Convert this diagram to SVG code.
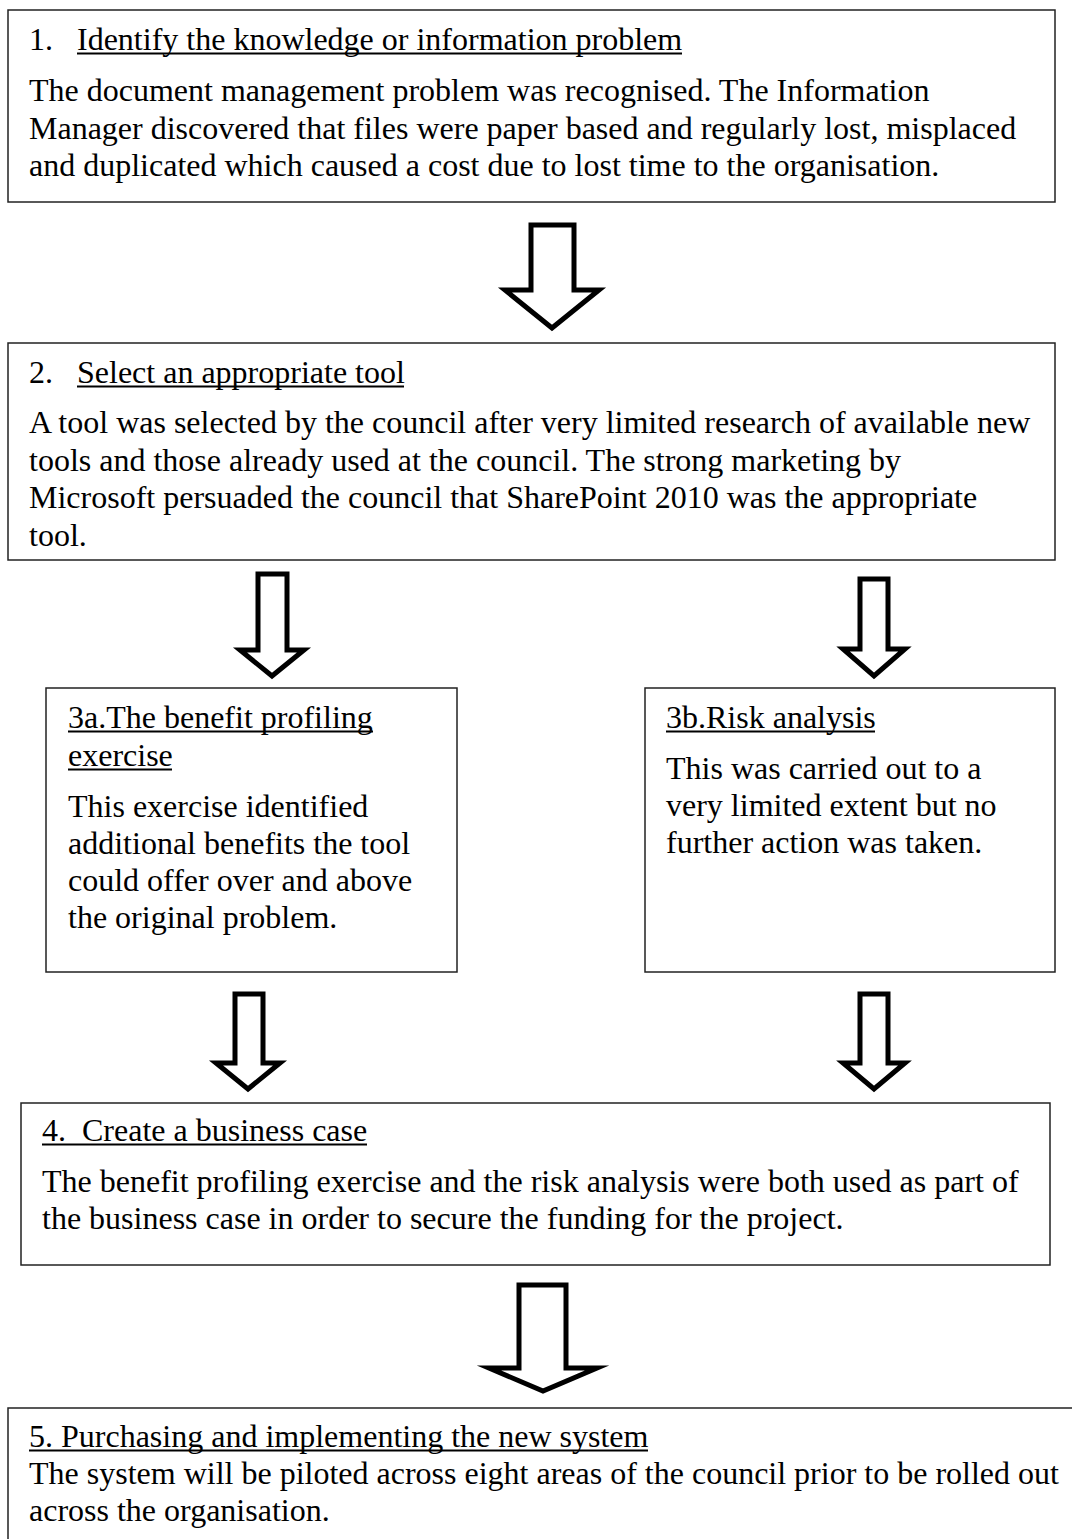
<svg xmlns="http://www.w3.org/2000/svg" width="1072" height="1539" viewBox="0 0 1072 1539">
  <style>
    .box { fill: #ffffff; stroke: #222222; stroke-width: 1.5; }
    .arrow { fill: #ffffff; stroke: #000000; stroke-width: 5; stroke-linejoin: miter; stroke-miterlimit: 10; }
    text { font-family: "Liberation Serif", "Times New Roman", serif; font-size: 32px; fill: #000000; }
    .ul { stroke: #000000; stroke-width: 2; }
  </style>
  <rect x="0" y="0" width="1072" height="1539" fill="#ffffff"/>

  <!-- block arrows between the steps -->
  <g id="connectors">
    <polygon class="arrow" points="531,225 574,225 574,290 599,290 552,328 505,290 531,290"/>
    <polygon class="arrow" points="258,574 287,574 287,650 304,650 272,676 240,650 258,650"/>
    <polygon class="arrow" points="860,579 888,579 888,649 905,649 874,676 843,649 860,649"/>
    <polygon class="arrow" points="235,994 263,994 263,1063 280,1063 248,1089 216,1063 235,1063"/>
    <polygon class="arrow" points="860,994 888,994 888,1063 905,1063 874,1089 843,1063 860,1063"/>
    <polygon class="arrow" points="519,1285 566,1285 566,1368 597,1368 543,1391 489,1368 519,1368"/>
  </g>

  <g id="node-1">
    <rect class="box" x="8" y="10" width="1047" height="192"/>
    <text x="29" y="50">1.</text>
    <text x="77" y="50">Identify the knowledge or information problem</text>
    <line class="ul" x1="77" y1="53.5" x2="682" y2="53.5"/>
    <text x="29" y="101">The document management problem was recognised. The Information</text>
    <text x="29" y="138.5">Manager discovered that files were paper based and regularly lost, misplaced</text>
    <text x="29" y="176">and duplicated which caused a cost due to lost time to the organisation.</text>
  </g>

  <g id="node-2">
    <rect class="box" x="8" y="343" width="1047" height="217"/>
    <text x="29" y="383">2.</text>
    <text x="77" y="383">Select an appropriate tool</text>
    <line class="ul" x1="77" y1="386.5" x2="404" y2="386.5"/>
    <text x="29" y="433">A tool was selected by the council after very limited research of available new</text>
    <text x="29" y="470.5">tools and those already used at the council. The strong marketing by</text>
    <text x="29" y="508">Microsoft persuaded the council that SharePoint 2010 was the appropriate</text>
    <text x="29" y="545.5">tool.</text>
  </g>

  <g id="node-3a">
    <rect class="box" x="46" y="688" width="411" height="284"/>
    <text x="68" y="728">3a.The benefit profiling</text>
    <line class="ul" x1="68" y1="731.5" x2="373" y2="731.5"/>
    <text x="68" y="766">exercise</text>
    <line class="ul" x1="68" y1="769.5" x2="172" y2="769.5"/>
    <text x="68" y="817">This exercise identified</text>
    <text x="68" y="854">additional benefits the tool</text>
    <text x="68" y="891">could offer over and above</text>
    <text x="68" y="928">the original problem.</text>
  </g>

  <g id="node-3b">
    <rect class="box" x="645" y="688" width="410" height="284"/>
    <text x="666" y="728">3b.Risk analysis</text>
    <line class="ul" x1="666" y1="731.5" x2="875" y2="731.5"/>
    <text x="666" y="779">This was carried out to a</text>
    <text x="666" y="816">very limited extent but no</text>
    <text x="666" y="853">further action was taken.</text>
  </g>

  <g id="node-4">
    <rect class="box" x="21" y="1103" width="1029" height="162"/>
    <text x="42" y="1141" xml:space="preserve">4.  Create a business case</text>
    <line class="ul" x1="42" y1="1144.5" x2="367" y2="1144.5"/>
    <text x="42" y="1192">The benefit profiling exercise and the risk analysis were both used as part of</text>
    <text x="42" y="1229">the business case in order to secure the funding for the project.</text>
  </g>

  <g id="node-5">
    <rect class="box" x="8" y="1408" width="1090" height="200"/>
    <text x="29" y="1447">5. Purchasing and implementing the new system</text>
    <line class="ul" x1="29" y1="1450.5" x2="648" y2="1450.5"/>
    <text x="29" y="1484">The system will be piloted across eight areas of the council prior to be rolled out</text>
    <text x="29" y="1521">across the organisation.</text>
  </g>
</svg>
